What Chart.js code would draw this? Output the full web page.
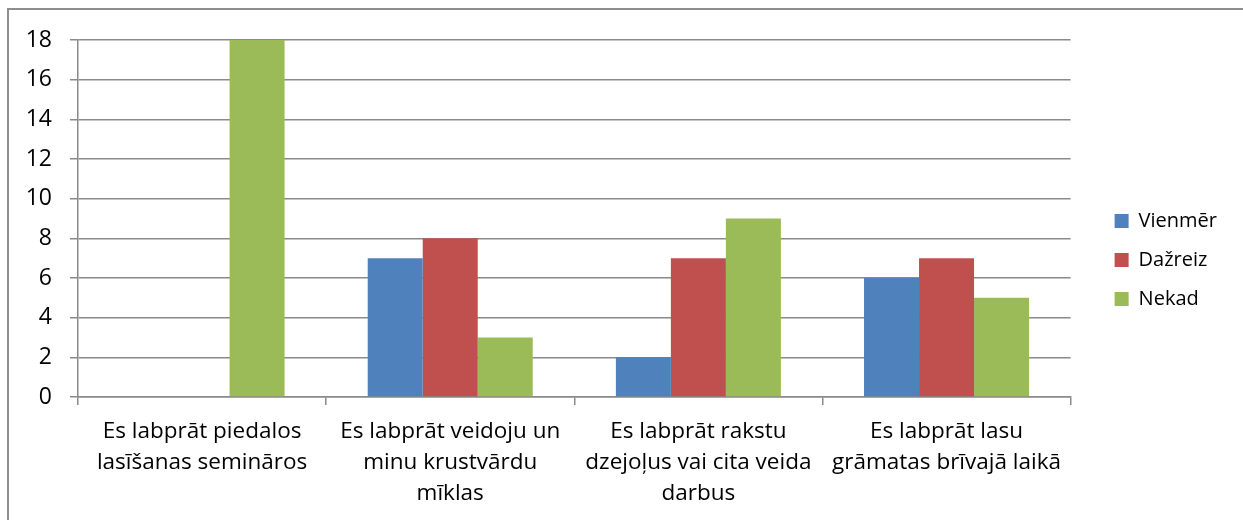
<!DOCTYPE html>
<html>
<head>
<meta charset="utf-8">
<script src="https://cdn.jsdelivr.net/npm/chart.js@4.4.1/dist/chart.umd.min.js"></script>
<style>
  html, body { margin: 0; padding: 0; background: #fff; }
  #wrap { position: relative; width: 1243px; height: 520px; overflow: hidden; }
  #frame { position: absolute; left: 7px; top: 8px; width: 1300px; height: 600px; border: 2px solid #8e8e8e; box-sizing: border-box; }
  canvas { position: absolute; left: 0; top: 0; }
</style>
</head>
<body>
<div id="wrap">
  <div id="frame"></div>
  <canvas id="chart" width="1243" height="520"></canvas>
</div>
<script>
// kategorijas (x ass)
const categories = [
    ['Es labprāt piedalos', 'lasīšanas semināros'],
    ['Es labprāt veidoju un', 'minu krustvārdu', 'mīklas'],
    ['Es labprāt rakstu', 'dzejoļus vai cita veida', 'darbus'],
    ['Es labprāt lasu', 'grāmatas brīvajā laikā']
];
const seriesNames = ['Vienmēr', 'Dažreiz', 'Nekad'];
const vienmer = [0, 7, 2, 6];
const dazreiz = [0, 8, 7, 7];
const nekad = [18, 3, 9, 5];
const yTicks = [0, 2, 4, 6, 8, 10, 12, 14, 16, 18];

const colors = ['#4F81BD', '#C0504D', '#9BBB59'];
const gridColor = '#8a8a8a';
const font = "'Open Sans', 'DejaVu Sans', sans-serif";

// legenda nobīdīta pa labi, kā oriģinālā
const legendShift = {
    id: 'legendShift',
    afterLayout(chart) {
        const lg = chart.legend;
        if (!lg) return;
        lg.left += 25; lg.right += 25;
        lg.top -= 20; lg.bottom -= 20;
    }
};

new Chart(document.getElementById('chart'), {
    type: 'bar',
    data: {
        labels: categories,
        datasets: [vienmer, dazreiz, nekad].map((d, i) => ({
            label: seriesNames[i],
            data: d,
            backgroundColor: colors[i],
            borderWidth: 0,
            categoryPercentage: 0.665,
            barPercentage: 1
        }))
    },
    options: {
        responsive: false,
        animation: false,
        layout: { padding: { top: 40, right: 41, left: 0, bottom: 0 } },
        plugins: {
            tooltip: { enabled: false },
            legend: {
                position: 'right',
                labels: {
                    boxWidth: 14, boxHeight: 14, padding: 19,
                    color: '#000',
                    font: { family: font, size: 20 }
                }
            }
        },
        scales: {
            x: {
                grid: { display: true, drawOnChartArea: false, drawTicks: true, tickLength: 8, color: gridColor, lineWidth: 1.5, offset: true },
                border: { display: true, color: gridColor, width: 1.5 },
                ticks: { color: '#000', padding: 11, maxRotation: 0, autoSkip: false, font: { family: font, size: 22.5, lineHeight: '31px' } },
                afterFit(scale) { scale.height = 123; }
            },
            y: {
                min: 0, max: 18,
                afterBuildTicks(scale) { scale.ticks = yTicks.map(v => ({ value: v })); },
                grid: { color: gridColor, lineWidth: 1.5, tickLength: 8 },
                border: { display: true, color: gridColor, width: 1.5 },
                ticks: { color: '#000', padding: 18, font: { family: font, size: 23 } },
                afterFit(scale) { scale.width = 78; }
            }
        }
    },
    plugins: [legendShift]
});
</script>
</body>
</html>
